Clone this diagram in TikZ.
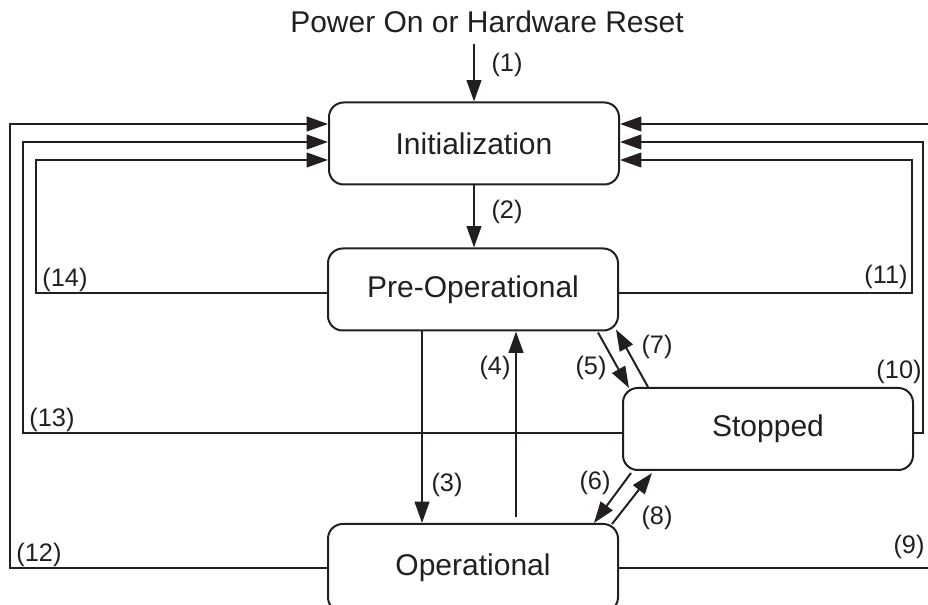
\documentclass[tikz,border=0pt]{standalone}
\usepackage{fontspec}
\setmainfont{Liberation Sans}
\usetikzlibrary{arrows.meta,calc}
\definecolor{ink}{HTML}{231F20}
\begin{document}
\begin{tikzpicture}[x=0.75pt,y=-0.75pt,line width=1.5pt,
  state/.style={draw=ink,rounded corners=11pt,minimum width=217.5pt,minimum height=61.5pt,inner sep=0pt,font=\fontsize{22.5}{27}\selectfont,text=ink},
  lbl/.style={font=\fontsize{19}{23}\selectfont,text=ink,inner sep=0pt},
  arr/.style={draw=ink,-{Triangle[length=16pt,width=11pt]}},
  wire/.style={draw=ink}]
\useasboundingbox (0,0) rectangle (928,605);
\clip (0,0) rectangle (928,605);
% states
\node[font=\fontsize{22.5}{27}\selectfont,text=ink,inner xsep=0pt,inner ysep=7.5pt] (title) at (487,22) {Power On or Hardware Reset};
\node[state] (init) at (474,143.5) {Initialization};
\node[state] (preop) at (473,289.5) {Pre-Operational};
\node[state] (stopped) at (768,429) {Stopped};
\node[state,minimum height=66pt] (op) at (473,568) {Operational};
% vertical transitions
\draw[arr] (title.south -| init.north) -- (init.north);
\draw[arr] (init.south) -- (init.south |- preop.north);
\draw[arr] ($(preop.south)+(-51,0)$) -- ($(op.north)+(-51,0)$);
\draw[arr] ($(op.north)+(43,-6)$) -- ($(preop.south)+(43,0)$);
% diagonal transitions
\draw[arr] ($(preop.south east)+(-21,1)$) -- ($(stopped.north west)+(7,1)$);
\draw[arr] ($(stopped.north west)+(26,0)$) -- ($(preop.south east)+(-3,-2)$);
\draw[arr] ($(stopped.south west)+(9,2)$) -- ($(op.north east)+(-25,0)$);
\draw[arr] ($(op.north east)+(-7,1)$) -- ($(stopped.south west)+(30,2)$);
% loops back to Initialization (left)
\draw[arr] (op.west) -| (10,124) -- ($(init.west)+(0,-19.5)$);
\draw[arr] ($(stopped.west)+(0,4)$) -| (23,142) -- ($(init.west)+(0,-1.5)$);
\draw[arr] ($(preop.west)+(0,3.5)$) -| (36,160) -- ($(init.west)+(0,16.5)$);
% loops back to Initialization (right)
\draw[arr] ($(preop.east)+(0,3.5)$) -| (912,160) -- ($(init.east)+(0,16.5)$);
\draw[arr] ($(stopped.east)+(0,4)$) -| (923,142) -- ($(init.east)+(0,-1.5)$);
\draw[arr] (op.east) -| (936,124) -- ($(init.east)+(0,-19.5)$);
% labels
\node[lbl] (l1) at (507,65) {(1)};
\node[lbl] (l2) at (507,212) {(2)};
\node[lbl] (l3) at (447,485) {(3)};
\node[lbl] (l4) at (495,368) {(4)};
\node[lbl] (l5) at (591,368) {(5)};
\node[lbl] (l6) at (595,483) {(6)};
\node[lbl] (l7) at (657,347) {(7)};
\node[lbl] (l8) at (657,518) {(8)};
\node[lbl] (l9) at (909,547) {(9)};
\node[lbl] (l10) at (899,372) {(10)};
\node[lbl] (l11) at (886,277) {(11)};
\node[lbl] (l12) at (39,555) {(12)};
\node[lbl] (l13) at (52,420) {(13)};
\node[lbl] (l14) at (65,280) {(14)};
\end{tikzpicture}
\end{document}
